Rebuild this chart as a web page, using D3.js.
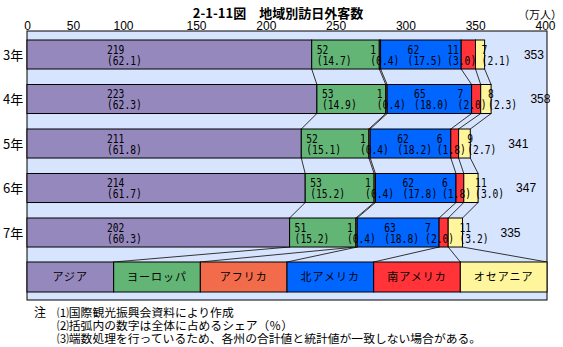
<!DOCTYPE html>
<html><head><meta charset="utf-8">
<script src="https://cdn.jsdelivr.net/npm/d3@7"></script>
<style>
html,body{margin:0;padding:0;background:#fff;}
svg{display:block;}
</style></head>
<body>
<script>
// ---- data ----
const years = ["3年","4年","5年","6年","7年"];
const regions = ["アジア","ヨーロッパ","アフリカ","北アメリカ","南アメリカ","オセアニア"];
const asia = [219,223,211,214,202];
const asiaShare = [62.1,62.3,61.8,61.7,60.3];
const europe = [52,53,52,53,51];
const europeShare = [14.7,14.9,15.1,15.2,15.2];
const africa = [1,1,1,1,1];
const africaShare = [0.4,0.4,0.4,0.4,0.4];
const northAmerica = [62,65,62,62,63];
const northAmericaShare = [17.5,18.0,18.2,17.8,18.8];
const southAmerica = [11,7,6,6,7];
const southAmericaShare = [3.0,2.0,1.8,1.8,2.0];
const oceania = [7,8,9,11,11];
const oceaniaShare = [2.1,2.3,2.7,3.0,3.2];
const totals = [353,358,341,347,335];
const tickValues = [0,50,100,150,200,250,300,350,400];
const notes = ["⑴国際観光振興会資料により作成","⑵括弧内の数字は全体に占めるシェア（％）","⑶端数処理を行っているため、各州の合計値と統計値が一致しない場合がある。"];

const series = [asia,europe,africa,northAmerica,southAmerica,oceania];
const shares = [asiaShare,europeShare,africaShare,northAmericaShare,southAmericaShare,oceaniaShare];
const colors = ["#9488BD","#63B575","#F26B4A","#0066FF","#FF3338","#FFF59C"];

const W=563,H=347;
const L=27,R=547,T=31,B=300;
const svg=d3.select("body").append("svg").attr("width",W).attr("height",H);
svg.append("rect").attr("width",W).attr("height",H).attr("fill","#fff");

const x=d3.scaleLinear().domain([0,400]).range([L,R]);
const y=d3.scaleBand().domain(years).range([32.26,32.26+222.5]).paddingInner(0.348).paddingOuter(0.174);
const bh=y.bandwidth();

// title
svg.append("text").attr("x",278).attr("y",17.5).attr("text-anchor","middle")
  .attr("font-family","'Noto Sans CJK JP'").attr("font-weight","bold").attr("font-size",13)
  .text("2-1-11図　地域別訪日外客数");
svg.append("text").attr("x",562).attr("y",18.5).attr("text-anchor","end")
  .attr("font-family","'Noto Sans CJK JP'").attr("font-size",11).text("（万人）");

// plot frame
svg.append("rect").attr("x",L).attr("y",T).attr("width",R-L).attr("height",B-T)
  .attr("fill","#D7E4FD").attr("stroke","#000").attr("stroke-width",1);

// top axis labels (decorative, spaced as in the original)
const tickScale=d3.scaleLinear().domain([0,50,100,150,400]).range([27,73,123,196,545]);
const axis=d3.axisTop(tickScale).tickValues(tickValues).tickSize(0).tickPadding(0);
const ag=svg.append("g").attr("transform","translate(0,29.5)").call(axis);
ag.select(".domain").remove();
ag.selectAll("text").attr("font-family","'Liberation Sans Narrow','Liberation Sans',sans-serif").attr("font-size",12).attr("fill","#000").attr("dy",0);

// cumulative
const cum = years.map((yr,i)=>{let s=0;return series.map(a=>{const st=s;s+=a[i];return [st,s];});});

// connectors
const cg=svg.append("g").attr("stroke","#333").attr("stroke-width",1);
for(let i=0;i<years.length-1;i++){
  for(let k=0;k<series.length;k++){
    cg.append("line").attr("x1",x(cum[i][k][1])).attr("y1",y(years[i])+bh)
      .attr("x2",x(cum[i+1][k][1])).attr("y2",y(years[i+1]));
  }
}
const lg=d3.scaleBand().domain(regions).range([L,R]);
const legTop=262, legH=30;
const last=years.length-1;
for(let k=0;k<series.length;k++){
  cg.append("line").attr("x1",x(cum[last][k][1])).attr("y1",y(years[last])+bh)
    .attr("x2",lg(regions[k])+lg.bandwidth()).attr("y2",legTop);
}

// bars
years.forEach((yr,i)=>{
  const g=svg.append("g");
  series.forEach((a,k)=>{
    g.append("rect").attr("x",x(cum[i][k][0])).attr("y",y(yr))
      .attr("width",x(cum[i][k][1])-x(cum[i][k][0])).attr("height",bh)
      .attr("fill",colors[k]).attr("stroke","#000").attr("stroke-width",1);
  });
});

// value labels
const mono="'DejaVu Sans Mono',monospace";
function lab(xp,yt,txt){
  svg.append("text").attr("x",xp).attr("y",yt).attr("font-family",mono).attr("font-size",12)
    .attr("textLength",txt.length*5.8).attr("lengthAdjust","spacingAndGlyphs").text(txt);
}
years.forEach((yr,i)=>{
  const top=y(yr);
  const c=cum[i];
  const pos=[
    x(c[0][0])+80,
    x(c[1][0])+5,
    x(c[2][0])-9,
    x(c[3][0])+27,
    x(c[4][0])-14,
    x(c[5][1])-3
  ];
  series.forEach((a,k)=>{
    lab(pos[k],top+13.5,String(a[i]));
    lab(pos[k],top+24.5,"("+shares[k][i].toFixed(1)+")");
  });
  svg.append("text").attr("x",x(totals[i])+48).attr("y",top+bh/2+4).attr("text-anchor","middle")
    .attr("font-family","'Liberation Sans',sans-serif").attr("font-size",12).text(totals[i]);
  svg.append("text").attr("x",3).attr("y",top+bh/2+5)
    .attr("font-family","'Noto Sans CJK JP'").attr("font-size",13).text(yr);
});

// legend
const leg=svg.append("g");
regions.forEach((r,k)=>{
  leg.append("rect").attr("x",lg(r)).attr("y",legTop).attr("width",lg.bandwidth()).attr("height",legH)
    .attr("fill",colors[k]).attr("stroke","#000").attr("stroke-width",1);
  leg.append("text").attr("x",lg(r)+lg.bandwidth()/2).attr("y",legTop+legH/2+4).attr("text-anchor","middle")
    .attr("font-family","'Noto Sans CJK JP'").attr("font-size",11).attr("letter-spacing",1).text(r);
});

// notes
svg.append("text").attr("x",34).attr("y",317).attr("font-family","'Noto Sans CJK JP'").attr("font-size",12).text("注");
notes.forEach((n,i)=>{
  svg.append("text").attr("x",57).attr("y",317+i*12.8).attr("font-family","'Noto Sans CJK JP'").attr("font-size",11.8).text(n);
});
</script>
</body></html>
